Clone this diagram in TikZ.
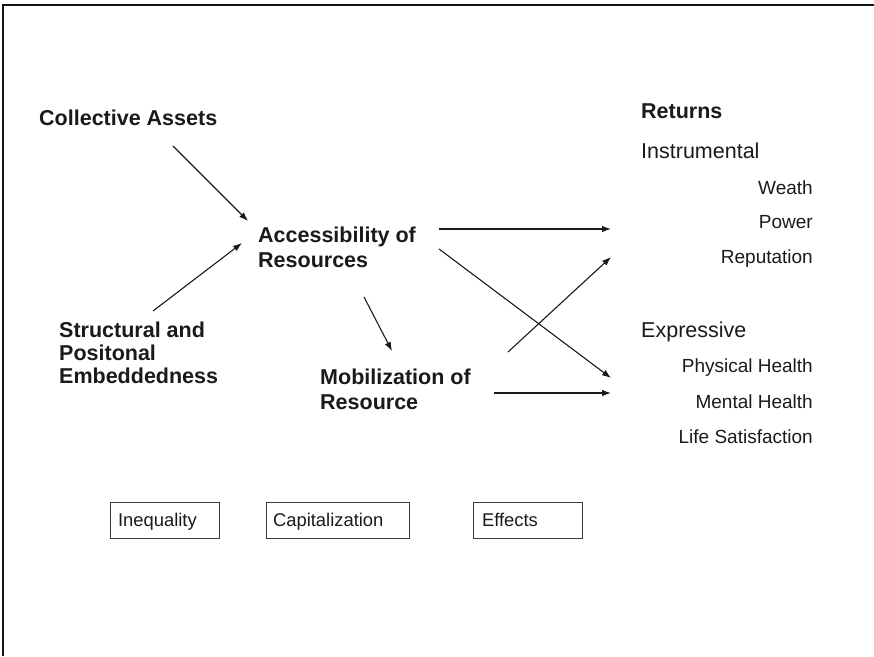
\documentclass[tikz,border=0pt]{standalone}
\usepackage{fontspec}
\setmainfont{Liberation Sans}
\usetikzlibrary{arrows.meta}
\definecolor{ink}{HTML}{1A1A1A}
\tikzset{
  big/.style={inner sep=0pt, text=ink, font=\fontsize{21.5}{25}\selectfont\bfseries},
  reg/.style={inner sep=0pt, text=ink, font=\fontsize{21.5}{25}\selectfont},
  small/.style={inner sep=0pt, text=ink, font=\fontsize{19}{22}\selectfont},
  boxed/.style={draw=ink!85, line width=0.9pt, text=ink, font=\fontsize{18.4}{21}\selectfont,
    align=left, inner ysep=0pt, minimum height=36pt, text height=13.2pt, text depth=0pt},
  arr/.style={draw=ink, line width=1.1pt, -{Latex[length=9pt,width=6.5pt]}},
}
\begin{document}
\begin{tikzpicture}[x=1pt,y=-1pt]
\useasboundingbox (0,0) rectangle (874,656);
\draw[line width=2pt, color=black!92] (874,5) -- (3,5) -- (3,656);

% left side
\node[big, anchor=base west] (ca) at (39,125) {Collective Assets};
\node[big, anchor=base west] (st1) at (59,337) {Structural and};
\node[big, anchor=base west] (st2) at (59,360) {Positonal};
\node[big, anchor=base west] (st3) at (59,383) {Embeddedness};

% middle
\node[big, anchor=base west] (acc1) at (258,242) {Accessibility of};
\node[big, anchor=base west] (acc2) at (258,267) {Resources};
\node[big, anchor=base west] (mob1) at (320,384) {Mobilization of};
\node[big, anchor=base west] (mob2) at (320,409) {Resource};

% returns
\node[big, anchor=base west] (ret) at (641,118) {Returns};
\node[reg, anchor=base west] (ins) at (641,158) {Instrumental};
\node[small, anchor=base east] (weath) at (813,194) {Weath};
\node[small, anchor=base east] (power) at (813,228) {Power};
\node[small, anchor=base east] (rep) at (813,263) {Reputation};
\node[reg, anchor=base west] (exp) at (641,337) {Expressive};
\node[small, anchor=base east] (phys) at (813,372) {Physical Health};
\node[small, anchor=base east] (ment) at (813,408) {Mental Health};
\node[small, anchor=base east] (life) at (813,443) {Life Satisfaction};

% boxes
\node[boxed, inner xsep=8pt, text width=93pt] (ineq) at (164.5,520) {Inequality};
\node[boxed, inner xsep=7pt, text width=129pt] (cap) at (337.5,520) {Capitalization};
\node[boxed, inner xsep=9pt, text width=91pt] (eff) at (527.5,520) {Effects};

% connectors
\draw[arr] ([shift={(134,21)}]ca.base west) -- ([shift={(-10,-21)}]acc1.base west);
\draw[arr] ([shift={(94,-26)}]st1.base west) -- ([shift={(-16,1)}]acc1.base west);
\draw[arr] ([shift={(106,30)}]acc2.base west) -- ([shift={(72,-33)}]mob1.base west);
\draw[arr] ([shift={(181,-13)}]acc1.base west) -- ([shift={(-202,1)}]power.base east);
\draw[arr] ([shift={(181,7)}]acc1.base west) -- ([shift={(-202,6)}]phys.base east);
\draw[arr] ([shift={(188,-32)}]mob1.base west) -- ([shift={(-202,-6)}]rep.base east);
\draw[arr] ([shift={(174,9)}]mob1.base west) -- ([shift={(-202,-15)}]ment.base east);
\end{tikzpicture}
\end{document}
